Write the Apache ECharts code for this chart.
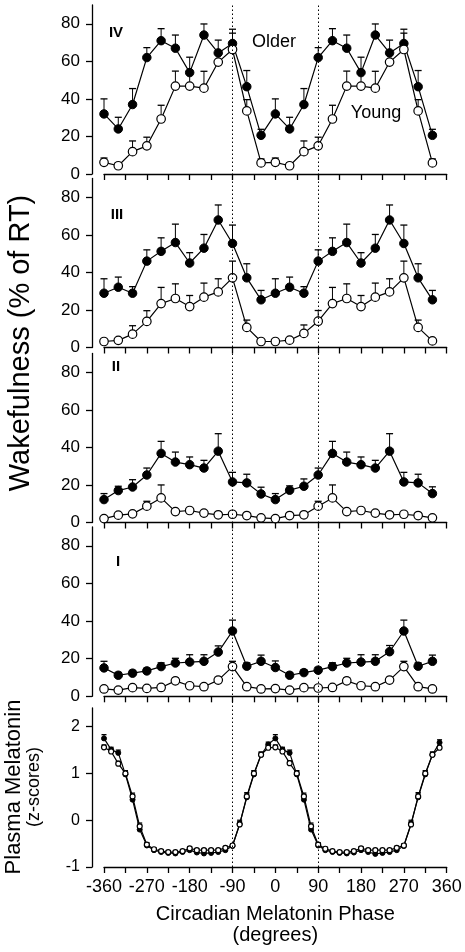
<!DOCTYPE html>
<html><head><meta charset="utf-8">
<script src="https://cdn.jsdelivr.net/npm/echarts@6/dist/echarts.min.js"></script>
<style>html,body{margin:0;padding:0;background:#fff}#c{width:465px;height:952px}</style>
</head><body><div id="c"></div>
<script>
// ---- data ----
const wakePhase = [-360,-330,-300,-270,-240,-210,-180,-150,-120,-90,-60,-30,0,30,60,90,120,150,180,210,240,270,300,330];
const melPhase = [-360,-345,-330,-315,-300,-285,-270,-255,-240,-225,-210,-195,-180,-165,-150,-135,-120,-105,-90,-75,-60,-45,-30,-15,
                  0,15,30,45,60,75,90,105,120,135,150,165,180,195,210,225,240,255,270,285,300,315,330,345];

const olderIV    = [32,24,37,62,71,67,54,74,64.5,69.5,46.5,20.6, 32,24,37,62,71,67,54,74,64.5,69.5,46.5,20.6];
const olderIVErr = [8,6.2,8.5,5.3,6.4,7,8.2,5.9,6.8,7.6,8.6,3.2, 8,6.2,8.5,5.3,6.4,7,8.2,5.9,6.8,7.6,8.6,3.2];
const youngIV    = [6.2,4.4,11.9,15,29.3,46.8,46.8,45.7,59.6,66.3,33.6,5.9, 6.2,4.4,11.9,15,29.3,46.8,46.8,45.7,59.6,66.3,33.6,5.9];
const youngIVErr = [2.3,1.5,5.7,4.6,7.3,8,7,9,5,8.7,6,2.1, 2.3,1.5,5.7,4.6,7.3,8,7,9,5,8.7,6,2.1];

const olderIII    = [28.9,32.1,28.9,46,51.2,55.9,45,52.9,67.9,55.4,37.1,25.4, 28.9,32.1,28.9,46,51.2,55.9,45,52.9,67.9,55.4,37.1,25.4];
const olderIIIErr = [7.7,5.4,3.5,6,7.2,9.8,5.5,7.3,8,9.8,7.5,5, 7.7,5.4,3.5,6,7.2,9.8,5.5,7.3,8,9.8,7.5,5];
const youngIII    = [3.2,3.8,7.1,13.9,23.4,26.1,21.8,26.8,29.6,37.1,10.7,3.2, 3.2,3.9,7.5,14,23.4,26.1,21.8,26.8,29.6,37.1,10.7,3.5];
const youngIIIErr = [1,1,4.5,5.7,8.6,7.8,5.9,7.5,7,8.9,3.9,1, 1,1,4.5,5.7,8.6,7.8,5.9,7.5,7,8.9,3.9,1];

const olderII    = [12.2,17,18.9,25.3,36.8,32.2,30.8,29,38,21.6,21.1,15.2, 12.2,17.2,19.3,25.3,36.8,32.2,30.8,29,38,21.6,21.1,15.4];
const olderIIErr = [3.2,2.3,3.9,3.7,6.4,5.3,4.1,4.1,9.3,5.1,4.6,3.6, 3.2,2.3,3.9,3.7,6.4,5.3,4.1,4.1,9.3,5.1,4.6,3.6];
const youngII    = [2.1,3.9,4.6,8.7,13.1,5.8,6.4,5,4.1,4.4,3.7,2.5, 2.1,3.7,4.1,8.7,13.1,5.8,6.4,5,4.1,4.4,3.7,2.5];
const youngIIErr = [0.8,0.8,0.8,2.6,6.9,0.8,0.8,0.8,0.8,0.8,0.8,0.8, 0.8,0.8,0.8,2.6,6.9,0.8,0.8,0.8,0.8,0.8,0.8,0.8];

const olderI    = [15.1,11.2,12.3,13.5,15.8,17.7,18.2,18.6,23.5,34.7,16,18.6, 15.3,11.2,12.6,13.9,15.8,17.7,18.2,18.6,23.7,34.7,16,18.6];
const olderIErr = [3.5,1.5,1.5,1.5,2,2.5,3.9,3.5,3.3,5.8,1.8,3.3, 3.5,1.5,1.5,1.5,2,2.5,3.9,3.5,3.3,5.8,1.8,3.3];
const youngI    = [3.9,3.3,4.6,4.2,4.7,8.2,5.6,5.1,8.6,15.8,5.1,3.9, 4.1,3.3,4.6,4.4,4.7,8.2,5.6,5.1,8.6,15.8,5.1,3.9];
const youngIErr = [0.8,0.8,0.8,0.8,0.8,1.6,0.8,0.8,1.5,2.8,0.8,0.8, 0.8,0.8,0.8,0.8,0.8,1.6,0.8,0.8,1.5,2.8,0.8,0.8];

const melOlder = [1.75,1.51,1.44,0.98,0.44,-0.2,-0.54,-0.64,-0.68,-0.70,-0.71,-0.68,-0.64,-0.69,-0.71,-0.70,-0.68,-0.64,-0.55,-0.08,0.49,0.98,1.40,1.62,
                  1.75,1.51,1.44,0.98,0.44,-0.2,-0.54,-0.64,-0.68,-0.70,-0.71,-0.69,-0.64,-0.68,-0.72,-0.70,-0.68,-0.64,-0.55,-0.08,0.49,0.98,1.40,1.66];
const melOlderErr = [0.08,0.05,0.06,0.08,0.1,0.1,0.05,0.04,0.04,0.04,0.04,0.04,0.04,0.04,0.04,0.04,0.04,0.04,0.04,0.08,0.1,0.08,0.06,0.05,
                     0.08,0.05,0.06,0.08,0.1,0.1,0.05,0.04,0.04,0.04,0.04,0.04,0.04,0.04,0.04,0.04,0.04,0.04,0.04,0.08,0.1,0.08,0.06,0.06];
const melYoung = [1.56,1.47,1.21,1.0,0.51,-0.13,-0.52,-0.62,-0.66,-0.68,-0.68,-0.66,-0.60,-0.64,-0.64,-0.64,-0.64,-0.59,-0.54,-0.09,0.51,1.0,1.40,1.55,
                  1.56,1.47,1.22,1.0,0.51,-0.13,-0.52,-0.61,-0.66,-0.68,-0.68,-0.66,-0.60,-0.64,-0.64,-0.64,-0.64,-0.59,-0.54,-0.09,0.51,1.0,1.40,1.55];
const melYoungErr = [0.05,0.04,0.05,0.06,0.07,0.07,0.04,0.03,0.03,0.03,0.03,0.03,0.03,0.03,0.03,0.03,0.03,0.03,0.03,0.06,0.07,0.06,0.05,0.04,
                     0.05,0.04,0.05,0.06,0.07,0.07,0.04,0.03,0.03,0.03,0.03,0.03,0.03,0.03,0.03,0.03,0.03,0.03,0.03,0.06,0.07,0.06,0.05,0.04];

const xTickLabels = [-360,-270,-180,-90,0,90,180,270,360];
const wakeYTicks = [0,20,40,60,80];
const melYTicks = [-1,0,1,2];
const refLines = [-90, 90];
const panelNames = ['IV','III','II','I'];

// ---- layout ----
const FONT = '"Liberation Sans", Arial, sans-serif';
const L = 104, W = 342.7;
const panels = [
  {top: 5, height: 169},
  {top: 178.5, height: 169},
  {top: 353.5, height: 169},
  {top: 527, height: 169.3},
  {top: 708, height: 159}
];
const wakeSets = [
  [olderIV, olderIVErr, youngIV, youngIVErr],
  [olderIII, olderIIIErr, youngIII, youngIIIErr],
  [olderII, olderIIErr, youngII, youngIIErr],
  [olderI, olderIErr, youngI, youngIErr]
];

const grid = panels.map(p => ({left: L, width: W, top: p.top, height: p.height, outerBoundsMode: 'none'}));
grid.push({left: L, width: W, top: 5, height: 862, outerBoundsMode: 'none'});

const axisLineStyle = {color: '#000', width: 1.3};
const xAxis = panels.map((p, i) => ({
  type: 'value', gridIndex: i, min: -360, max: 360, interval: 45,
  axisLine: {show: true, onZero: false, lineStyle: axisLineStyle},
  axisTick: {show: true, length: 6, lineStyle: axisLineStyle},
  splitLine: {show: false},
  axisLabel: {
    show: i === 4, margin: 11, color: '#000', fontFamily: FONT, fontSize: 18,
    formatter: v => (xTickLabels.indexOf(v) >= 0 ? String(v) : '')
  },
  name: i === 4 ? 'Circadian Melatonin Phase\n(degrees)' : '',
  nameLocation: 'middle', nameGap: 37,
  nameTextStyle: {color: '#000', fontFamily: FONT, fontSize: 20, lineHeight: 21}
}));
xAxis.push({type: 'value', gridIndex: 5, min: -360, max: 360, show: false});

const yAxis = panels.map((p, i) => {
  const mel = i === 4;
  const ticks = mel ? melYTicks : wakeYTicks;
  return {
    type: 'value', gridIndex: i, min: mel ? -1 : 0, max: mel ? 2.4 : 90, interval: mel ? 1 : 20,
    offset: 12, position: 'left',
    axisLine: {show: true, onZero: false, lineStyle: axisLineStyle},
    axisTick: {show: true, length: 6, lineStyle: axisLineStyle, customValues: ticks},
    splitLine: {show: false},
    axisLabel: {customValues: ticks, margin: 12, color: '#000', fontFamily: FONT, fontSize: mel ? 16 : 17}
  };
});
yAxis.push({type: 'value', gridIndex: 5, min: 0, max: 1, show: false});

function errSeries(idx, phase, vals, errs, capW) {
  return {
    type: 'custom', xAxisIndex: idx, yAxisIndex: idx, z: 1, silent: true,
    data: phase.map((p, k) => [p, vals[k], vals[k] + errs[k]]),
    encode: {x: 0, y: [1, 2]},
    renderItem: (params, api) => {
      const x = api.value(0);
      const a = api.coord([x, api.value(1)]);
      const b = api.coord([x, api.value(2)]);
      return {type: 'group', children: [
        {type: 'line', shape: {x1: a[0], y1: a[1], x2: b[0], y2: b[1]}, style: {stroke: '#000', lineWidth: 1}},
        {type: 'line', shape: {x1: b[0] - capW / 2, y1: b[1], x2: b[0] + capW / 2, y2: b[1]}, style: {stroke: '#000', lineWidth: 1.3}}
      ]};
    }
  };
}
function lineSeries(idx, phase, vals, filled, size) {
  return {
    type: 'line', xAxisIndex: idx, yAxisIndex: idx, z: 3, silent: true,
    data: phase.map((p, k) => [p, vals[k]]),
    symbol: 'circle', symbolSize: size, showAllSymbol: true,
    lineStyle: {color: '#000', width: 1.2},
    itemStyle: filled ? {color: '#000', borderColor: '#000', borderWidth: 1} : {color: '#fff', borderColor: '#000', borderWidth: 1.2}
  };
}

const series = [];
wakeSets.forEach((s, i) => {
  series.push(errSeries(i, wakePhase, s[0], s[1], 7));
  series.push(errSeries(i, wakePhase, s[2], s[3], 7));
  series.push(lineSeries(i, wakePhase, s[0], true, 8.5));
  series.push(lineSeries(i, wakePhase, s[2], false, 8.5));
});
series.push(errSeries(4, melPhase, melOlder, melOlderErr, 5));
series.push(errSeries(4, melPhase, melYoung, melYoungErr, 5));
series.push(lineSeries(4, melPhase, melOlder, true, 5));
series.push(lineSeries(4, melPhase, melYoung, false, 5));
series.push({
  type: 'line', xAxisIndex: 5, yAxisIndex: 5, silent: true, z: 0,
  data: refLines.map(v => [v, 0]), showSymbol: false, lineStyle: {opacity: 0},
  markLine: {
    silent: true, symbol: 'none', label: {show: false},
    lineStyle: {color: '#000', width: 1, type: [1.5, 2.5]},
    data: refLines.map(v => ({xAxis: v}))
  }
});

const labelPos = [[116, 33], [117, 215], [116, 367], [118, 562]];
const graphic = [];
panelNames.forEach((n, i) => graphic.push({
  type: 'text', x: labelPos[i][0], y: labelPos[i][1],
  style: {text: n, font: 'bold 15px ' + FONT, fill: '#000', textAlign: 'center', textVerticalAlign: 'middle'}
}));
graphic.push({type: 'text', x: 274, y: 42, style: {text: 'Older', font: '18px ' + FONT, fill: '#000', textAlign: 'center', textVerticalAlign: 'middle'}});
graphic.push({type: 'text', x: 376, y: 113, style: {text: 'Young', font: '18px ' + FONT, fill: '#000', textAlign: 'center', textVerticalAlign: 'middle'}});
graphic.push({type: 'text', x: 21, y: 343, rotation: Math.PI / 2,
  style: {text: 'Wakefulness (% of RT)', font: '29px ' + FONT, fill: '#000', textAlign: 'center', textVerticalAlign: 'middle'}});
graphic.push({type: 'text', x: 14, y: 787, rotation: Math.PI / 2,
  style: {text: 'Plasma Melatonin', font: '22px ' + FONT, fill: '#000', textAlign: 'center', textVerticalAlign: 'middle'}});
graphic.push({type: 'text', x: 34, y: 787, rotation: Math.PI / 2,
  style: {text: '(z-scores)', font: '18px ' + FONT, fill: '#000', textAlign: 'center', textVerticalAlign: 'middle'}});

const chart = echarts.init(document.getElementById('c'), null, {renderer: 'canvas'});
chart.setOption({
  animation: false,
  backgroundColor: '#fff',
  grid, xAxis, yAxis, series, graphic
});
</script>
</body></html>
